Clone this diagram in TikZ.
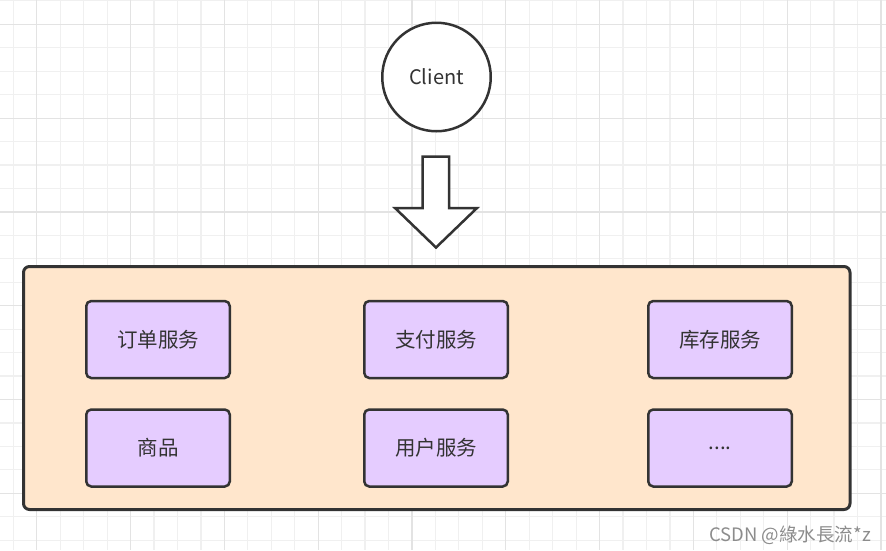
\documentclass[tikz,border=0pt]{standalone}
\usepackage{fontspec}
\newfontfamily\cjk{Noto Sans CJK SC}
\usetikzlibrary{positioning}
\definecolor{ink}{HTML}{333333}
\definecolor{poolfill}{HTML}{FFE6CC}
\definecolor{svcfill}{HTML}{E5CCFF}
\definecolor{gridminor}{HTML}{F0F0F0}
\definecolor{gridmajor}{HTML}{E3E3E3}
\tikzset{
  svc/.style={draw=ink, line width=2.5pt, rounded corners=5pt, fill=svcfill,
    minimum width=143.5pt, minimum height=77pt, inner sep=0pt,
    text=ink, font=\cjk\fontsize{20.5}{20.5}\selectfont},
  pool/.style={draw=ink, line width=3pt, rounded corners=6pt, fill=poolfill,
    minimum width=826.5pt, minimum height=243pt, inner sep=0pt},
}

\begin{document}
\begin{tikzpicture}[x=1pt, y=-1pt]
  \useasboundingbox (0,0) rectangle (886,550);
  % grid
  \foreach \i in {0,...,37} {
    \draw[gridminor, line width=1.2pt] ({13.3+23.45*\i},0) -- ({13.3+23.45*\i},550);
  }
  \foreach \j in {0,...,23} {
    \draw[gridminor, line width=1.2pt] (0,{0.85+23.45*\j}) -- (886,{0.85+23.45*\j});
  }
  \foreach \i in {0,...,9} {
    \draw[gridmajor, line width=1.2pt] ({36.75+93.8*\i},0) -- ({36.75+93.8*\i},550);
  }
  \foreach \j in {0,...,5} {
    \draw[gridmajor, line width=1.2pt] (0,{24.3+93.8*\j}) -- (886,{24.3+93.8*\j});
  }

  % Nodes
  \node (client) [circle, draw=ink, line width=2.5pt, fill=white, minimum size=108.5pt,
    inner sep=0pt, text=ink, font=\cjk\fontsize{20}{20}\selectfont] at (436.5,77) {Client};
  \node (pool) [pool] at (436.75,388) {};

  \node (order) [svc] at (158,339.5) {订单服务};
  \node (pay) [svc, right=132pt of order] {支付服务};
  \node (stock) [svc, right=138pt of pay] {库存服务};
  \node (goods) [svc, below=29pt of order] {商品};
  \node (user) [svc, below=29pt of pay] {用户服务};
  \node (more) [svc, below=29pt of stock] {....};

  % Arrow
  \draw[draw=ink, line width=2.5pt, fill=white]
    (422.5,156.5) -- (449,156.5) -- (449,208) -- (477,208) -- (436,247.5)
    -- (395,208) -- (422.5,208) -- cycle;

  \node (mark) [anchor=base east, inner sep=0pt, text=black!45,
    font=\cjk\fontsize{18.5}{18.5}\selectfont] at (871,541) {CSDN @綠水長流*z};
\end{tikzpicture}
\end{document}
